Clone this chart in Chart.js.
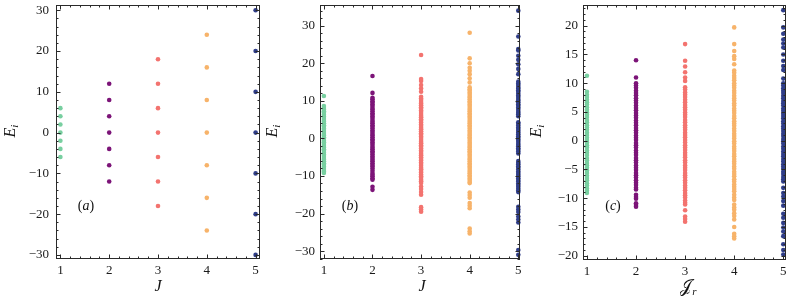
<!DOCTYPE html>
<html>
<head>
<meta charset="utf-8">
<script src="https://cdn.jsdelivr.net/npm/chart.js@4.4.0/dist/chart.umd.min.js"></script>
<style>
  body { margin: 0; background: #fff; }
  #wrap { position: relative; width: 793px; height: 304px; overflow: hidden; }
  #wrap canvas { position: absolute; top: 0; }
</style>
</head>
<body>
<div id="wrap">
  <canvas id="chart-a" width="264" height="304" style="left:0px"></canvas>
  <canvas id="chart-b" width="262" height="304" style="left:264px"></canvas>
  <canvas id="chart-c" width="267" height="304" style="left:526px"></canvas>
</div>
<script>
// x positions (J values) shared by all panels
const jValues = [1, 2, 3, 4, 5];
const xTicks = [1, 2, 3, 4, 5];
const colors = ['#78cfa0', '#7c1478', '#f3736f', '#f7b36a', '#2f3d88'];

// panel (a)
const a1 = [6, 4, 2, 0, -2, -4, -6];
const a2 = [12, 8, 4, 0, -4, -8, -12];
const a3 = [18, 12, 6, 0, -6, -12, -18];
const a4 = [24, 16, 8, 0, -8, -16, -24];
const a5 = [30, 20, 10, 0, -10, -20, -30];
const yTicksA = [-30, -20, -10, 0, 10, 20, 30];

// panel (b)
const b1 = [11.3, 8.6, 8.1, 7.7, 7.2, 6.8, 6.3, 5.8, 5.4, 4.9, 4.5, 4.0, 3.5, 3.1, 2.6, 2.2, 1.7, 1.2, 0.8, 0.3,
  -0.1, -0.6, -1.0, -1.5, -2.0, -2.4, -2.9, -3.3, -3.8, -4.3, -4.7, -5.2, -5.6, -6.1, -6.6, -7.0, -7.5, -7.9, -8.4, -8.8, -9.2];
const b2 = [16.6, 12.1, 10.8, 10.4, 9.9, 9.5, 9.0, 8.6, 8.1, 7.7, 7.2, 6.7, 6.3, 5.8, 5.4, 4.9, 4.4, 4.0, 3.5, 3.1,
  2.6, 2.1, 1.7, 1.2, 0.8, 0.3, -0.2, -0.6, -1.1, -1.5, -2.0, -2.5, -2.9, -3.4, -3.8, -4.3, -4.8, -5.2, -5.7, -6.1,
  -6.6, -7.1, -7.5, -8.0, -8.6, -9.2, -9.7, -10.1, -10.6, -11.0, -12.9, -13.7];
const b3 = [22.2, 15.8, 15.3, 14.2, 13.3, 12.4, 11.1, 10.6, 10.2, 9.7, 9.3, 8.8, 8.3, 7.9, 7.4, 7.0, 6.5, 6.0, 5.6, 5.1,
  4.7, 4.2, 3.7, 3.3, 2.8, 2.4, 1.9, 1.4, 1.0, 0.5, 0.1, -0.4, -0.9, -1.3, -1.8, -2.2, -2.7, -3.2, -3.6, -4.1, -4.5,
  -5.0, -5.5, -5.9, -6.4, -6.8, -7.3, -7.8, -8.2, -8.7, -9.1, -9.6, -10.1, -10.5, -11.0, -11.4, -11.9, -12.8, -13.5,
  -14.3, -15.0, -18.3, -18.9, -19.5];
const b4 = [28.1, 21.3, 20.0, 18.8, 18.0, 17.1, 16.0, 14.9, 13.6, 13.1, 12.7, 12.2, 11.8, 11.3, 10.9, 10.4, 9.9, 9.5,
  9.0, 8.6, 8.1, 7.6, 7.2, 6.7, 6.3, 5.8, 5.4, 4.9, 4.4, 4.0, 3.5, 3.1, 2.6, 2.1, 1.7, 1.2, 0.8, 0.3, -0.1, -0.6,
  -1.1, -1.5, -2.0, -2.4, -2.9, -3.4, -3.8, -4.3, -4.7, -5.2, -5.6, -6.1, -6.6, -7.0, -7.5, -7.9, -8.4, -8.9, -9.3,
  -9.8, -10.2, -10.7, -11.1, -11.6, -11.9, -14.4, -15.1, -15.8, -17.2, -17.9, -18.6, -24.0, -24.7, -25.3];
const b5 = [34.0, 27.1, 23.8, 23.4, 22.0, 20.9, 19.7, 18.5, 17.1, 15.1, 14.6, 14.2, 13.7, 13.3, 12.8, 12.4, 11.9,
  11.4, 11.0, 10.5, 10.1, 9.6, 9.1, 8.7, 8.2, 7.8, 7.3, 6.8, 6.4, 5.9, 4.3, 3.9, 3.4, 2.9, 2.5, 2.0, 1.6, 1.1, 0.6,
  0.2, -0.3, -0.7, -1.2, -1.7, -2.1, -2.6, -3.0, -3.5, -4.0, -6.0, -6.5, -6.9, -7.4, -7.8, -8.3, -8.8, -9.2, -9.7,
  -10.1, -10.6, -11.1, -11.5, -12.0, -12.4, -12.9, -13.4, -13.9, -14.3, -18.2, -18.9, -19.6, -20.8, -21.6, -22.4,
  -29.7, -31.0];
const yTicksB = [-30, -20, -10, 0, 10, 20, 30];

// panel (c)
const c1 = [11.3, 8.5, 8.0, 7.6, 7.1, 6.7, 6.3, 5.8, 5.4, 4.9, 4.5, 4.1, 3.6, 3.2, 2.7, 2.3, 1.9, 1.4, 1.0, 0.5, 0.1,
  -0.3, -0.8, -1.2, -1.7, -2.1, -2.5, -3.0, -3.4, -3.9, -4.3, -4.7, -5.2, -5.6, -6.1, -6.5, -6.9, -7.4, -7.8, -8.3,
  -8.7, -9.1];
const c2 = [14.0, 11.0, 10.0, 9.6, 9.2, 8.7, 8.3, 7.9, 7.4, 7.0, 6.6, 6.1, 5.7, 5.3, 4.8, 4.4, 4.0, 3.5, 3.1, 2.7,
  2.2, 1.8, 1.4, 0.9, 0.5, 0.1, -0.4, -0.8, -1.2, -1.7, -2.1, -2.5, -3.0, -3.4, -3.8, -4.3, -4.7, -5.1, -5.6, -6.0,
  -6.4, -6.9, -7.3, -7.7, -8.2, -8.5, -9.4, -9.8, -10.1, -10.9, -11.2, -11.5];
const c3 = [16.8, 13.9, 12.9, 11.9, 11.0, 10.4, 9.3, 8.9, 8.4, 8.0, 7.6, 7.1, 6.7, 6.2, 5.8, 5.4, 4.9, 4.5, 4.1, 3.6,
  3.2, 2.7, 2.3, 1.9, 1.4, 1.0, 0.6, 0.1, -0.3, -0.8, -1.2, -1.6, -2.1, -2.5, -2.9, -3.4, -3.8, -4.3, -4.7, -5.1,
  -5.6, -6.0, -6.4, -6.9, -7.3, -7.8, -8.2, -8.6, -9.1, -9.5, -9.9, -10.4, -10.8, -11.1, -12.1, -13.2, -13.6, -14.1];
const c4 = [19.7, 16.8, 15.6, 14.7, 14.2, 13.3, 12.2, 11.8, 11.3, 10.9, 10.5, 10.0, 9.6, 9.2, 8.7, 8.3, 7.8, 7.4, 7.0,
  6.5, 6.1, 5.6, 5.2, 4.8, 4.3, 3.9, 3.4, 3.0, 2.6, 2.1, 1.7, 1.2, 0.8, 0.4, -0.1, -0.5, -1.0, -1.4, -1.8, -2.3,
  -2.7, -3.2, -3.6, -4.0, -4.5, -4.9, -5.4, -5.8, -6.2, -6.7, -7.1, -7.6, -8.0, -8.4, -8.8, -9.4, -9.9, -10.3,
  -11.1, -11.6, -12.0, -12.6, -13.1, -13.7, -15.0, -16.2, -16.6, -17.0];
const c5 = [22.7, 19.7, 18.6, 17.6, 16.9, 16.2, 15.0, 13.9, 13.0, 12.3, 10.8, 10.0, 9.6, 9.1, 8.7, 8.3, 7.8, 7.4, 6.9,
  6.5, 6.1, 5.6, 5.2, 4.7, 4.3, 3.9, 3.4, 3.0, 2.5, 2.1, 1.7, 1.2, 0.8, 0.3, -0.1, -0.5, -1.0, -1.4, -1.9, -2.3,
  -2.7, -3.2, -3.6, -4.1, -4.5, -4.9, -5.4, -5.8, -6.3, -6.7, -7.1, -8.2, -9.1, -9.7, -10.5, -11.3, -12.7, -13.4,
  -14.3, -15.1, -15.8, -16.6, -18.0, -19.0, -19.8];
const yTicksC = [-20, -15, -10, -5, 0, 5, 10, 15, 20];

const FONT = '"Liberation Serif", "DejaVu Serif", serif';

function fontOf(p) {
  return (p.it ? 'italic ' : '') + p.size + 'px ' + FONT;
}

// draw a little math label made of pieces, centred on cx, baseline at by
function drawParts(ctx, parts, cx, by) {
  let w = 0;
  parts.forEach(p => { ctx.font = fontOf(p); p.w = ctx.measureText(p.t).width; w += p.w; });
  let x = cx - w / 2;
  parts.forEach(p => {
    ctx.font = fontOf(p);
    ctx.fillText(p.t, x, by + (p.dy || 0));
    x += p.w;
  });
}

// frame with inward ticks on all four sides + titles
const decor = {
  id: 'decor',
  afterDraw(chart, args, o) {
    const ctx = chart.ctx;
    const a = chart.chartArea;
    const xs = chart.scales.x, ys = chart.scales.y;
    ctx.save();
    ctx.strokeStyle = '#2a2a2a';
    ctx.lineWidth = 1;
    ctx.strokeRect(a.left + 0.5, a.top + 0.5, a.right - a.left - 1, a.bottom - a.top - 1);

    ctx.beginPath();
    for (let k = Math.ceil(xs.min / o.xMinor - 1e-9); k * o.xMinor <= xs.max + 1e-9; k++) {
      const v = k * o.xMinor;
      const major = Math.abs(v / o.xMajor - Math.round(v / o.xMajor)) < 1e-6;
      const len = major ? 4.5 : 2.5;
      const px = Math.round(xs.getPixelForValue(v)) + 0.5;
      ctx.moveTo(px, a.bottom); ctx.lineTo(px, a.bottom - len);
      ctx.moveTo(px, a.top); ctx.lineTo(px, a.top + len);
    }
    for (let k = Math.ceil(ys.min / o.yMinor - 1e-9); k * o.yMinor <= ys.max + 1e-9; k++) {
      const v = k * o.yMinor;
      const major = Math.abs(v / o.yMajor - Math.round(v / o.yMajor)) < 1e-6;
      const len = major ? 4.5 : 2.5;
      const py = Math.round(ys.getPixelForValue(v)) + 0.5;
      ctx.moveTo(a.left, py); ctx.lineTo(a.left + len, py);
      ctx.moveTo(a.right, py); ctx.lineTo(a.right - len, py);
    }
    ctx.stroke();

    ctx.fillStyle = '#111';
    ctx.textBaseline = 'alphabetic';
    drawParts(ctx, o.xTitle, (a.left + a.right) / 2 + o.xTitleDx, o.xTitleY);
    ctx.save();
    ctx.translate(o.yTitleX, o.yTitleY);
    ctx.rotate(-Math.PI / 2);
    drawParts(ctx, o.yTitle, 0, 0);
    ctx.restore();
    drawParts(ctx, o.tag, a.left + o.tagDx, o.tagY);
    ctx.restore();
  }
};

function makePanel(id, cfg) {
  const datasets = cfg.series.map((vals, i) => ({
    data: vals.map(v => ({ x: jValues[i], y: v })),
    backgroundColor: colors[i],
    borderWidth: 0,
    pointRadius: 2.3,
    pointHoverRadius: 2.3
  }));
  new Chart(document.getElementById(id), {
    type: 'scatter',
    data: { datasets },
    plugins: [decor],
    options: {
      responsive: false,
      animation: false,
      events: [],
      clip: false,
      layout: { padding: { top: 5, right: cfg.padRight, left: 0, bottom: 0 } },
      plugins: {
        legend: { display: false },
        tooltip: { enabled: false },
        decor: {
          xMinor: 0.2, xMajor: 1, yMinor: cfg.yMinor, yMajor: cfg.yMajor,
          xTitle: cfg.xTitle, xTitleDx: cfg.xTitleDx, xTitleY: cfg.xTitleY,
          yTitle: [{ t: 'E', it: true, size: 16 }, { t: 'i', it: true, size: 11, dy: 3 }],
          yTitleX: cfg.yTitleX, yTitleY: 131,
          tag: cfg.tag, tagDx: 30, tagY: 210
        }
      },
      scales: {
        x: {
          type: 'linear',
          min: cfg.xMin, max: cfg.xMax,
          grid: { display: false, drawTicks: false },
          border: { display: false },
          ticks: {
            padding: 4, maxRotation: 0, autoSkip: false, color: '#1a1a1a',
            font: { family: FONT, size: 13 }
          },
          afterBuildTicks: s => { s.ticks = xTicks.map(v => ({ value: v })); },
          afterFit: s => { s.height = cfg.xAxisH; s.paddingLeft = 0; s.paddingRight = 0; }
        },
        y: {
          type: 'linear',
          min: cfg.yMin, max: cfg.yMax,
          grid: { display: false, drawTicks: false },
          border: { display: false },
          ticks: {
            padding: cfg.yPad, autoSkip: false, color: '#1a1a1a',
            font: { family: FONT, size: 13 },
            callback: v => String(v).replace('-', '\u2212')
          },
          afterBuildTicks: s => { s.ticks = cfg.yTicks.map(v => ({ value: v })); },
          afterFit: s => { s.width = cfg.yAxisW; s.paddingTop = 0; s.paddingBottom = 0; }
        }
      }
    }
  });
}

const tagOf = letter => [{ t: '(', size: 14 }, { t: letter, it: true, size: 14 }, { t: ')', size: 14 }];

makePanel('chart-a', {
  series: [a1, a2, a3, a4, a5],
  xMin: 0.91, xMax: 5.09, yMin: -31, yMax: 31.3,
  yTicks: yTicksA, yMinor: 2, yMajor: 10,
  yAxisW: 56, xAxisH: 45, padRight: 4, yPad: 7,
  xTitle: [{ t: 'J', it: true, size: 16 }], xTitleDx: 0, xTitleY: 291,
  yTitleX: 15, tag: tagOf('a')
});

makePanel('chart-b', {
  series: [b1, b2, b3, b4, b5],
  xMin: 0.92, xMax: 5.035, yMin: -32.1, yMax: 35.5,
  yTicks: yTicksB, yMinor: 2, yMajor: 10,
  yAxisW: 56, xAxisH: 45, padRight: 6, yPad: 5,
  xTitle: [{ t: 'J', it: true, size: 16 }], xTitleDx: 2, xTitleY: 291,
  yTitleX: 13, tag: tagOf('b')
});

makePanel('chart-c', {
  series: [c1, c2, c3, c4, c5],
  xMin: 0.92, xMax: 5.055, yMin: -20.75, yMax: 23.6,
  yTicks: yTicksC, yMinor: 1, yMajor: 5,
  yAxisW: 57, xAxisH: 44, padRight: 7, yPad: 5,
  xTitle: [{ t: '\u{1D4A5}', it: false, size: 17 }, { t: 'r', it: true, size: 11, dy: 3 }], xTitleDx: 4, xTitleY: 292,
  yTitleX: 15, tag: tagOf('c')
});
</script>
</body>
</html>
